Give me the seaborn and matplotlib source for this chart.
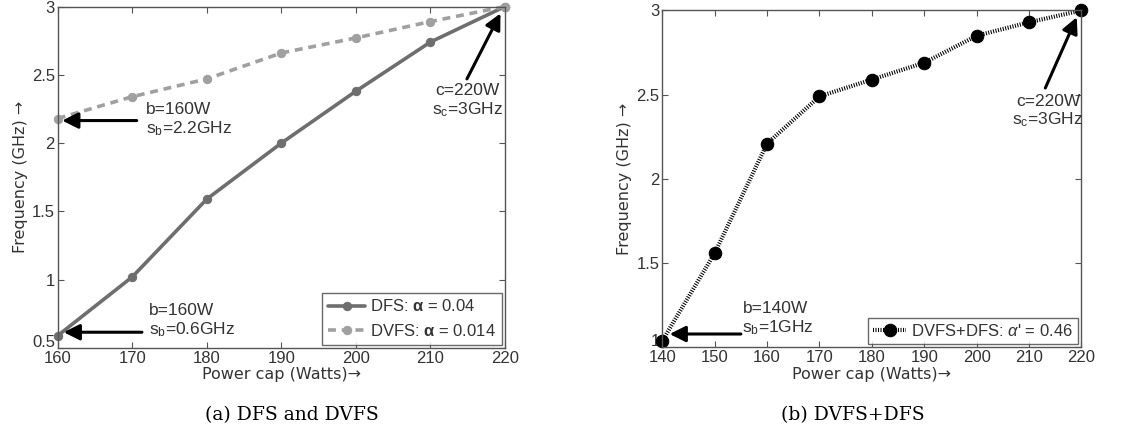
import matplotlib
matplotlib.use("Agg")
import matplotlib.pyplot as plt
import matplotlib.transforms as mtransforms
import seaborn as sns
import pandas as pd

# Data
power_a = [160, 170, 180, 190, 200, 210, 220]
freq_dfs = [0.59, 1.02, 1.59, 2.00, 2.38, 2.74, 3.00]
freq_dvfs = [2.18, 2.34, 2.47, 2.66, 2.77, 2.89, 3.00]
power_b = [140, 150, 160, 170, 180, 190, 200, 210, 220]
freq_both = [1.04, 1.56, 2.21, 2.49, 2.59, 2.69, 2.85, 2.93, 3.00]
xticks_a = [160, 170, 180, 190, 200, 210, 220]
xticks_b = [140, 150, 160, 170, 180, 190, 200, 210, 220]
yticks_a = [0.5, 1, 1.5, 2, 2.5, 3]
yticks_b = [1, 1.5, 2, 2.5, 3]

sns.set_theme(style="white")
plt.rcParams['font.family'] = ['Liberation Sans', 'DejaVu Sans']
plt.rcParams['mathtext.fontset'] = 'custom'
plt.rcParams['mathtext.rm'] = 'Liberation Sans'
plt.rcParams['mathtext.it'] = 'Liberation Sans:italic'
plt.rcParams['mathtext.bf'] = 'Liberation Sans:bold'

TXT = "#333333"
fig = plt.figure(figsize=(11.36, 4.36), dpi=100)
axa = fig.add_axes([0.0508, 0.202, 0.3937, 0.783])
axb = fig.add_axes([0.583, 0.203, 0.369, 0.773])

df_a = pd.DataFrame({"power": power_a * 2,
                     "freq": freq_dfs + freq_dvfs,
                     "series": ["DFS"] * len(power_a) + ["DVFS"] * len(power_a)})
sns.lineplot(data=df_a[df_a.series == "DFS"], x="power", y="freq", ax=axa,
             color="#6e6e6e", lw=2.6, marker="o", markersize=6,
             markeredgecolor="#6e6e6e", label=r"DFS: $\mathbf{\alpha}$ = 0.04")
sns.lineplot(data=df_a[df_a.series == "DVFS"], x="power", y="freq", ax=axa,
             color="#a0a0a0", lw=2.6, ls=(0, (2.2, 1.6)), marker="o", markersize=6,
             markeredgecolor="#a0a0a0", label=r"DVFS: $\mathbf{\alpha}$ = 0.014")

df_b = pd.DataFrame({"power": power_b, "freq": freq_both})
sns.lineplot(data=df_b, x="power", y="freq", ax=axb, color="black", lw=3.0,
             ls=(0, (0.25, 0.35)), marker="o", markersize=9, markeredgecolor="black",
             label=r"DVFS+DFS: $\alpha$' = 0.46")

def style(ax, xt, yt, xlim, ylim):
    ax.set_xlim(*xlim)
    ax.set_ylim(*ylim)
    ax.set_xticks(xt)
    ax.set_yticks(yt)
    ax.set_xticklabels([str(v) for v in xt])
    ax.set_yticklabels([("%g" % v) for v in yt])
    ax.tick_params(direction="in", length=4, width=0.8, colors="#555555",
                   labelcolor=TXT, labelsize=12, top=True, right=True,
                   bottom=True, left=True, pad=2)
    for s in ax.spines.values():
        s.set_color("#555555")
        s.set_linewidth(1.0)
    ax.set_xlabel("Power cap (Watts)\u2192", fontsize=11.5, color=TXT, labelpad=1,
                  family="DejaVu Sans")
    ax.set_ylabel("Frequency (GHz) \u2192", fontsize=11.5, color=TXT, labelpad=3,
                  family="DejaVu Sans")
    ax.grid(False)
    # raise the lowest y tick label a little, as in the reference
    lab = ax.get_yticklabels()[0]
    lab.set_transform(lab.get_transform() +
                      mtransforms.ScaledTranslation(0, 7 / 100, fig.dpi_scale_trans))

style(axa, xticks_a, yticks_a, (160, 220), (0.5, 3))
style(axb, xticks_b, yticks_b, (140, 220), (1, 3))

leg = axa.legend(loc="lower right", fontsize=12, frameon=True, fancybox=False,
                 edgecolor="#444444", handlelength=2.2, borderpad=0.35,
                 labelspacing=0.5, handletextpad=0.3, borderaxespad=0.2)
leg.get_frame().set_linewidth(1.0)
for t in leg.get_texts():
    t.set_color(TXT)
leg2 = axb.legend(loc="lower right", fontsize=12, frameon=True, fancybox=False,
                  edgecolor="#444444", handlelength=2.0, borderpad=0.3,
                  handletextpad=0.3, borderaxespad=0.2)
leg2.get_frame().set_linewidth(1.0)
for t in leg2.get_texts():
    t.set_color(TXT)

arrow = dict(arrowstyle="-|>,head_length=0.8,head_width=0.4", color="black", lw=2.2,
             shrinkA=0, shrinkB=0)
afs = 12.5
axa.annotate("", xy=(160.6, 2.165), xytext=(170.6, 2.165), arrowprops=arrow)
axa.text(171.8, 2.17, "b=160W\ns$_\\mathregular{b}$=2.2GHz", fontsize=afs, color=TXT,
         va="center", ha="left", linespacing=1.15)
axa.annotate("", xy=(160.8, 0.615), xytext=(171.3, 0.615), arrowprops=arrow)
axa.text(172.3, 0.70, "b=160W\ns$_\\mathregular{b}$=0.6GHz", fontsize=afs, color=TXT,
         va="center", ha="left", linespacing=1.15)
axa.annotate("", xy=(219.4, 2.95), xytext=(214.9, 2.47), arrowprops=arrow)
axa.text(215.0, 2.31, "c=220W\ns$_\\mathregular{c}$=3GHz", fontsize=afs, color=TXT,
         va="center", ha="center", linespacing=1.15)

axb.annotate("", xy=(141.4, 1.08), xytext=(155.0, 1.08), arrowprops=arrow)
axb.text(155.3, 1.17, "b=140W\ns$_\\mathregular{b}$=1GHz", fontsize=afs, color=TXT,
         va="center", ha="left", linespacing=1.15)
axb.annotate("", xy=(219.1, 2.96), xytext=(213.1, 2.54), arrowprops=arrow)
axb.text(213.6, 2.40, "c=220W\ns$_\\mathregular{c}$=3GHz", fontsize=afs, color=TXT,
         va="center", ha="center", linespacing=1.15)

for ax in (axa, axb):
    for line in ax.get_lines():
        line.set_clip_on(False)

fig.text(0.257, 0.048, "(a) DFS and DVFS", fontsize=13.5, family="DejaVu Serif",
         ha="center", va="center", color="black")
fig.text(0.751, 0.048, "(b) DVFS+DFS", fontsize=13.5, family="DejaVu Serif",
         ha="center", va="center", color="black")

fig.savefig("out.png", dpi=100, facecolor="white")
